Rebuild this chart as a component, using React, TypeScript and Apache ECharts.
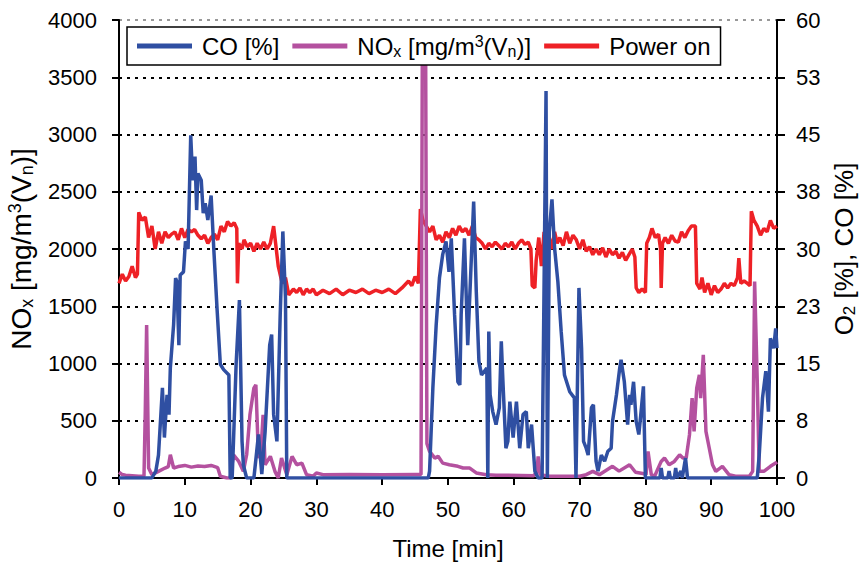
import React, { useEffect, useRef } from "react";
import * as echarts from "echarts";

// Time [min] vs CO [%] (right axis)
const coData: [number, number][] = [
  [0, 0], [5.0, 0], [5.6, 0.9], [6.0, 3], [6.6, 11.8], [6.9, 5.3], [7.3, 10.9], [7.6, 8.3], [7.8, 14.4],
  [8.3, 20.1], [8.6, 26.2], [8.8, 25.7], [9.1, 17.4], [9.3, 26.6], [9.8, 27], [10.1, 31], [10.5, 30],
  [10.9, 44.9], [11.2, 39], [11.55, 42.1], [11.8, 35.1], [12.0, 39.9], [12.5, 39], [12.8, 34.7], [13.1, 36],
  [13.5, 33.8], [14.0, 37], [14.4, 30.1], [14.9, 22.2], [15.4, 14.9], [15.9, 14.2], [16.7, 13.5], [16.9, 0],
  [17.2, 0], [17.4, 4.8], [17.8, 14.9], [18.3, 23.3], [18.7, 4.8], [18.9, 1.7], [19.4, 0], [20.5, 0],
  [21.2, 5.7], [21.7, 0.5], [22.2, 6], [22.9, 17.4], [23.2, 18.8], [23.5, 8.3], [24.0, 4.8], [24.5, 21.4],
  [24.9, 32.3], [25.3, 23.6], [25.5, 0], [47.0, 0], [47.2, 0.9], [47.7, 11.8], [48.2, 20], [48.7, 26.2],
  [49.2, 29.3], [49.7, 31], [50.15, 27], [50.5, 31.4], [51.0, 21.4], [51.5, 12.6], [51.8, 12.2], [52.0, 21.4],
  [52.5, 31.4], [53.0, 17.4], [53.4, 25.7], [53.9, 36.2], [54.3, 24.4], [54.7, 15.3], [55.1, 13.5],
  [55.9, 14.4], [56.05, 0], [56.2, 19.2], [56.4, 10.9], [56.8, 8.7], [57.3, 7], [57.8, 9.2], [58.1, 17.9],
  [58.35, 12.6], [58.8, 3.9], [59.1, 4.8], [59.4, 10], [59.9, 5.3], [60.4, 10], [60.9, 3.9], [61.4, 8.3],
  [61.9, 8.7], [62.2, 3.9], [62.7, 7], [63.2, 0.9], [63.7, 0], [64.3, 0], [64.9, 50.7], [65.1, 0], [65.2, 0],
  [65.4, 32.3], [65.8, 36.5], [66.2, 30.1], [66.7, 25.7], [67.2, 19.2], [67.7, 13.5], [68.5, 11.3],
  [69.2, 10.5], [69.45, 0], [69.9, 24.9], [70.3, 17], [70.6, 4.8], [71.0, 3.9], [71.3, 3], [71.8, 9.2],
  [72.1, 9.6], [72.5, 2.2], [72.8, 0.9], [73.3, 3], [73.8, 2.2], [74.3, 3.5], [74.8, 3.9], [75.0, 7.4],
  [75.6, 10.9], [76.1, 14.4], [76.3, 15.5], [76.8, 12.6], [77.3, 7], [77.6, 10.9], [77.8, 9.6], [78.2, 12.6],
  [78.6, 7.4], [79.0, 5.7], [79.3, 8.3], [79.7, 12], [80.0, 0], [82.2, 0], [82.4, 1.3], [82.6, 0], [83.4, 0],
  [83.6, 0.9], [83.8, 0], [84.4, 0], [84.6, 1.3], [84.8, 0], [85.4, 0.9], [85.6, 0], [86.1, 2.6], [86.4, 0],
  [97.0, 0], [97.3, 3], [97.8, 10.5], [98.3, 14], [98.7, 8.7], [99.0, 18.3], [99.5, 17], [99.8, 19.6], [100, 17],
];

// Time [min] vs NOx [mg/m3(Vn)] (left axis)
const noxData: [number, number][] = [
  [0, 50], [0.5, 30], [1, 25], [2, 20], [3, 15], [3.8, 15], [4.0, 600], [4.2, 1337], [4.5, 87], [5, 29],
  [6, 58], [7, 87], [7.5, 100], [7.8, 203], [8.3, 87], [9, 100], [10, 110], [11, 95], [12, 105], [13, 100],
  [14, 110], [15, 90], [15.4, 15], [16.4, 0], [16.9, 0], [17.4, 203], [18.2, 145], [18.9, 58], [19.4, 203],
  [19.9, 552], [20.5, 785], [20.8, 814], [21.2, 174], [21.6, 262], [21.9, 552], [22.2, 116], [23, 189],
  [23.7, 58], [24.2, 0], [24.7, 174], [25.5, 29], [26.3, 189], [27, 116], [27.8, 130], [28.5, 29], [29.5, 15],
  [30, 44], [31, 29], [35, 30], [40, 28], [45, 30], [45.9, 30], [46.1, 3800], [46.6, 3800], [46.8, 300],
  [47.2, 232], [48, 174], [48.5, 189], [49.2, 130], [50.2, 116], [51.5, 102], [52.3, 87], [53.3, 87],
  [54.3, 44], [55.8, 29], [57.3, 25], [63, 20], [63.5, 50], [63.7, 189], [64, 29], [65.4, 15], [70, 15],
  [71, 29], [72, 58], [73, 29], [75, 102], [76, 60], [77.6, 116], [78.5, 50], [79.6, 40], [80.1, 30],
  [80.4, 232], [80.9, 29], [81.4, 15], [82.4, 145], [82.9, 174], [83.6, 116], [84.4, 145], [85.2, 203],
  [85.7, 174], [86.2, 174], [86.7, 378], [87.1, 698], [87.4, 407], [87.8, 785], [88.2, 900], [88.4, 698],
  [88.8, 1075], [89.2, 407], [89.7, 262], [90.2, 116], [90.7, 58], [91.7, 102], [92.7, 29], [93.7, 15],
  [95.8, 15], [96.3, 58], [96.6, 1715], [97, 843], [97.3, 58], [98, 58], [99, 102], [99.8, 130], [100, 140],
];

// Time [min] vs Power on (left axis)
const powerData: [number, number][] = [
  [0, 1700], [0.5, 1780], [1, 1720], [1.5, 1760], [2, 1850], [2.5, 1750], [2.8, 1780], [3, 2320], [3.5, 2250],
  [4, 2280], [4.5, 2100], [5, 2200], [5.5, 2000], [6, 2150], [6.5, 2050], [7, 2150], [7.5, 2100], [8, 2130],
  [8.5, 2150], [9, 2080], [9.5, 2180], [10, 2100], [10.5, 2170], [11, 2150], [11.5, 2170], [12, 2120],
  [12.5, 2090], [13, 2120], [13.5, 2050], [14, 2100], [14.5, 2130], [15, 2080], [15.5, 2200], [16, 2150],
  [16.5, 2240], [17, 2200], [17.5, 2230], [17.9, 2180], [18, 1700], [18.2, 2050], [18.7, 2000], [19, 2080],
  [19.5, 2020], [20, 2050], [20.5, 1980], [21, 2050], [21.5, 2000], [22, 2060], [22.5, 2000], [23, 2050],
  [23.5, 2200], [23.8, 2050], [24.2, 1850], [24.8, 1700], [25.3, 1750], [25.8, 1600], [26.5, 1650],
  [27, 1620], [27.5, 1660], [28, 1600], [28.5, 1650], [29, 1620], [29.5, 1650], [30, 1600], [31, 1640],
  [32, 1610], [33, 1650], [34, 1600], [35, 1640], [36, 1620], [37, 1650], [38, 1610], [39, 1640], [40, 1620],
  [41, 1650], [42, 1610], [43, 1660], [44, 1720], [44.5, 1680], [45, 1760], [45.5, 1700], [45.8, 2350],
  [46.2, 2250], [46.7, 2200], [47.2, 2150], [47.7, 2200], [48.2, 2080], [48.7, 2120], [49.2, 2060],
  [49.7, 2150], [50.2, 2100], [50.7, 2180], [51.2, 2120], [51.7, 2200], [52.2, 2150], [52.7, 2180],
  [53.2, 2120], [53.7, 2200], [54.2, 2100], [54.7, 2080], [55.2, 2050], [55.7, 2000], [56.2, 2050],
  [56.7, 2020], [57.2, 2060], [57.7, 2030], [58.2, 2000], [58.7, 2050], [59.2, 2020], [59.7, 2060],
  [60.2, 2000], [60.7, 2050], [61.2, 2080], [61.7, 2040], [62.2, 2060], [62.6, 2000], [62.8, 1680],
  [63.2, 1660], [63.4, 1900], [63.8, 2100], [64.2, 1850], [64.6, 2150], [65, 1800], [65.4, 2100], [65.8, 2000],
  [66.2, 2150], [66.6, 2050], [67, 2100], [67.5, 2030], [68, 2150], [68.5, 2050], [69, 2120], [69.5, 2080],
  [70, 2000], [70.5, 2080], [71, 1980], [71.5, 2020], [72, 1950], [72.5, 2000], [73, 1950], [73.5, 2010],
  [74, 1930], [74.5, 2000], [75, 1950], [75.5, 1980], [76, 1920], [76.5, 1970], [77, 1900], [77.5, 1950],
  [78, 2000], [78.4, 1930], [78.6, 1660], [79, 1620], [79.5, 1650], [80, 1620], [80.2, 2050], [80.6, 2100],
  [81, 2180], [81.5, 2100], [82, 2130], [82.3, 2000], [82.4, 1660], [82.6, 2050], [83, 2100], [83.5, 2050],
  [84, 2120], [84.5, 2070], [85, 2060], [85.5, 2150], [86, 2100], [86.5, 2160], [87, 2200], [87.6, 2200],
  [87.8, 1700], [88.3, 1650], [88.6, 1750], [89, 1620], [89.5, 1700], [90, 1600], [90.5, 1680], [91, 1620],
  [91.5, 1650], [92, 1700], [92.5, 1660], [93, 1700], [93.5, 1680], [94, 1750], [94.2, 1920], [94.5, 1700],
  [95, 1720], [95.5, 1700], [95.9, 1680], [96.1, 2330], [96.5, 2250], [97, 2200], [97.5, 2120], [98, 2180],
  [98.5, 2150], [99, 2250], [99.5, 2180], [100, 2200],
];

const seriesNames = ["CO [%]", "NOx [mg/m3(Vn)]", "Power on"];
const FONT = "Liberation Sans";

function richSet(main: number, small: number, lh: number, firstPad: number) {
  return {
    f: { fontSize: main, fontFamily: FONT, color: "#000", lineHeight: lh, verticalAlign: "middle" as const, padding: [0, 0, 0, firstPad] },
    a: { fontSize: main, fontFamily: FONT, color: "#000", lineHeight: lh, verticalAlign: "middle" as const },
    s: { fontSize: small, fontFamily: FONT, color: "#000", lineHeight: lh, verticalAlign: "bottom" as const, padding: [0, 0, 1, 0] },
    p: { fontSize: small, fontFamily: FONT, color: "#000", lineHeight: lh, verticalAlign: "top" as const, padding: [1, 0, 0, 0] },
  };
}

export default function App() {
  const ref = useRef<HTMLDivElement>(null);
  useEffect(() => {
    if (!ref.current) return;
    const chart = echarts.init(ref.current, undefined, { renderer: "svg" });
    const gridColors = ["#000", "#000", "#000", "#000", "#000", "#000", "#000", "#000", "#999"];
    chart.setOption({
      animation: false,
      backgroundColor: "#fff",
      grid: { left: 119, right: 82, top: 20, bottom: 87, outerBoundsMode: "none", containLabel: false },
      legend: {
        left: 127,
        top: 27,
        data: seriesNames,
        icon: "rect",
        itemWidth: 55,
        itemHeight: 5,
        itemGap: 13,
        padding: [5, 10, 5, 10],
        backgroundColor: "#fff",
        borderColor: "#000",
        borderWidth: 1.5,
        borderRadius: 0,
        textStyle: { fontSize: 24, fontFamily: FONT, color: "#000", rich: richSet(24, 16, 28, 5) },
        formatter: (name: string) =>
          name.startsWith("NOx") ? "{f|NO}{s|x}{a| [mg/m}{p|3}{a|(V}{s|n}{a|)]}" : `{f|${name}}`,
      },
      xAxis: {
        type: "value",
        min: 0,
        max: 100,
        interval: 10,
        name: "Time [min]",
        nameLocation: "middle",
        nameGap: 58,
        nameTextStyle: { fontSize: 24, fontFamily: FONT, color: "#000" },
        axisLine: { show: true, onZero: false, lineStyle: { color: "#000", width: 2 } },
        axisTick: { show: true, length: 7, lineStyle: { color: "#000", width: 2 } },
        axisLabel: { fontSize: 22, fontFamily: FONT, color: "#000", margin: 20 },
        splitLine: { show: false },
      },
      yAxis: [
        {
          type: "value",
          min: 0,
          max: 4000,
          interval: 500,
          position: "left",
          name: "{a|NO}{s|x}{a| [mg/m}{p|3}{a|(V}{s|n}{a|)]}",
          nameLocation: "middle",
          nameGap: 69,
          nameTextStyle: { rich: richSet(28, 18, 32, 0) },
          axisLine: { show: true, lineStyle: { color: "#000", width: 2 } },
          axisTick: { show: true, length: 7, lineStyle: { color: "#000", width: 2 } },
          axisLabel: { fontSize: 22, fontFamily: FONT, color: "#000", margin: 22, formatter: (v: number) => String(v) },
          splitLine: { show: true, lineStyle: { color: gridColors, width: 2, type: [3, 5] } },
        },
        {
          type: "value",
          min: 0,
          max: 60,
          interval: 7.5,
          position: "right",
          name: "{a|O}{s|2}{a| [%], CO [%]}",
          nameLocation: "middle",
          nameGap: 45,
          nameRotate: 90,
          nameTextStyle: { rich: richSet(26, 17, 30, 0) },
          axisLine: { show: true, lineStyle: { color: "#000", width: 2 } },
          axisTick: { show: true, length: 8, lineStyle: { color: "#000", width: 2 } },
          axisLabel: {
            fontSize: 22,
            fontFamily: FONT,
            color: "#000",
            margin: 19,
            formatter: (v: number) => String(Math.round(v)),
          },
          splitLine: { show: false },
        },
      ],
      series: [
        {
          name: "Power on",
          type: "line",
          yAxisIndex: 0,
          data: powerData,
          symbol: "none",
          z: 2,
          lineStyle: { color: "#ee2126", width: 3.5 },
          itemStyle: { color: "#ee2126" },
        },
        {
          name: "NOx [mg/m3(Vn)]",
          type: "line",
          yAxisIndex: 0,
          data: noxData,
          symbol: "none",
          z: 3,
          lineStyle: { color: "#b4519f", width: 3.5 },
          itemStyle: { color: "#b4519f" },
        },
        {
          name: "CO [%]",
          type: "line",
          yAxisIndex: 1,
          data: coData,
          symbol: "none",
          z: 4,
          lineStyle: { color: "#2f4fa2", width: 3.5 },
          itemStyle: { color: "#2f4fa2" },
        },
      ],
    });
    return () => chart.dispose();
  }, []);
  return <div ref={ref} style={{ width: 859, height: 565, position: "absolute", left: 0, top: 0 }} />;
}
